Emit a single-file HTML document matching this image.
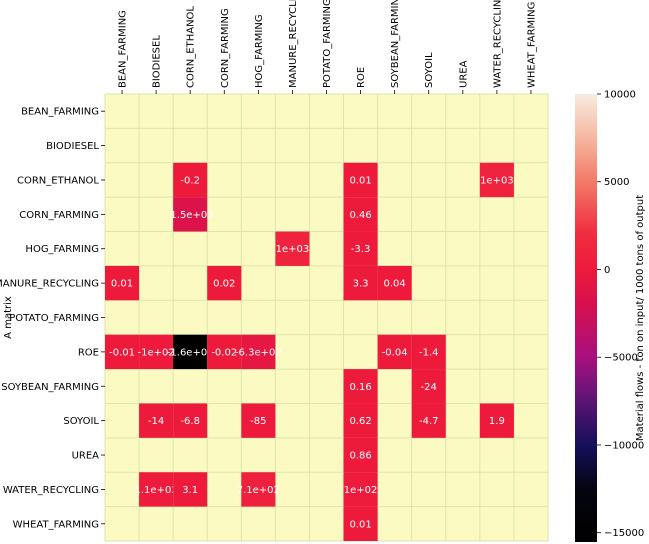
<!DOCTYPE html>
<html><head><meta charset="utf-8"><style>
body{margin:0;background:#fff;}
svg{display:block;font-family:"DejaVu Sans","Liberation Sans",sans-serif;}
</style></head><body>
<svg id="chart" width="649" height="544" viewBox="0 0 649 544"></svg>
<script>
const labels = ["BEAN_FARMING","BIODIESEL","CORN_ETHANOL","CORN_FARMING","HOG_FARMING","MANURE_RECYCLING","POTATO_FARMING","ROE","SOYBEAN_FARMING","SOYOIL","UREA","WATER_RECYCLING","WHEAT_FARMING"];
const cellRows = [2,2,2,3,3,4,4,5,5,5,5,7,7,7,7,7,7,7,8,8,9,9,9,9,9,9,10,11,11,11,11,12];
const cellCols = [2,7,11,2,7,5,7,0,3,7,8,0,1,2,3,4,8,9,7,9,1,2,4,7,9,11,7,1,2,4,7,7];
const cellValues = [-0.2,0.01,1000,-1500,0.46,1000,-3.3,0.01,0.02,3.3,0.04,-0.01,-100,-16000,-0.02,-630,-0.04,-1.4,0.16,-24,-14,-6.8,-85,0.62,-4.7,1.9,0.86,110,3.1,710,100,0.01];
const cellTexts = ["-0.2","0.01","1e+03","-1.5e+03","0.46","1e+03","-3.3","0.01","0.02","3.3","0.04","-0.01","-1e+02","-1.6e+04","-0.02","-6.3e+02","-0.04","-1.4","0.16","-24","-14","-6.8","-85","0.62","-4.7","1.9","0.86","1.1e+02","3.1","7.1e+02","1e+02","0.01"];
const cbTicks = [10000,5000,0,-5000,-10000,-15000];
const cbTickLabels = ["10000","5000","0","\u22125000","\u221210000","\u221215000"];
const vmin=-15530, vmax=10000;

const stops=[[-15530,[0,0,0]],[-12500,[4,4,16]],[-10000,[20,16,90]],[-7000,[106,20,120]],[-5000,[168,15,126]],[-2000,[214,16,78]],[0,[238,26,60]],[2000,[240,44,64]],[5000,[243,122,104]],[7500,[245,184,160]],[10000,[248,235,224]]];
function cmap(v){
  v=Math.max(vmin,Math.min(vmax,v));
  for(let i=1;i<stops.length;i++){
    if(v<=stops[i][0]){const a=stops[i-1],b=stops[i];const t=(v-a[0])/(b[0]-a[0]);
      const c=a[1].map((x,k)=>Math.round(x+(b[1][k]-x)*t));return `rgb(${c[0]},${c[1]},${c[2]})`;}
  }
  return 'rgb(248,235,224)';
}
const NS="http://www.w3.org/2000/svg";
const svg=document.getElementById('chart');
function el(tag,attrs,parent){const e=document.createElementNS(NS,tag);for(const k in attrs)e.setAttribute(k,attrs[k]);(parent||svg).appendChild(e);return e;}
const X0=105,Y0=94,W=443,H=447,n=labels.length,cw=W/n,ch=H/n;
const xPos=i=>X0+cw*i, yPos=i=>Y0+ch*i;
const bg=el('rect',{x:X0,y:Y0,width:W,height:H,fill:'#fafac2'});


for(let i=0;i<=n;i++){
  const l1=el('line',{x1:xPos(i),x2:xPos(i),y1:Y0,y2:Y0+H,stroke:'#dde6a6','stroke-width':1});
  
  
  const l2=el('line',{x1:X0,x2:X0+W,y1:yPos(i),y2:yPos(i),stroke:'#dde6a6','stroke-width':1});
  
  
}
for(let k=0;k<cellValues.length;k++){
  const r=el('rect',{x:xPos(cellCols[k]),y:yPos(cellRows[k]),width:cw,height:ch,fill:cmap(cellValues[k])});
  
  
  const t=el('text',{x:xPos(cellCols[k]+0.5),y:yPos(cellRows[k]+0.5)+3.5,'text-anchor':'middle','font-size':10,fill:'#fff'});
  t.textContent=cellTexts[k];
  
  
}
for(let i=0;i<n;i++){
  const cx=xPos(i+0.5);
  el('line',{x1:cx,x2:cx,y1:Y0-4,y2:Y0,stroke:'#000','stroke-width':0.8});
  const t=el('text',{x:0,y:0,transform:`translate(${cx+3.5},${Y0-6}) rotate(-90)`,'font-size':10,fill:'#000'});
  t.textContent=labels[i];
  
  
  const cy=yPos(i+0.5);
  el('line',{x1:X0-4,x2:X0,y1:cy,y2:cy,stroke:'#000','stroke-width':0.8});
  const r=el('text',{x:X0-6,y:cy+3.5,'text-anchor':'end','font-size':10,fill:'#000'});
  r.textContent=labels[i];
  
  
}
const yl=el('text',{x:0,y:0,transform:`translate(11,${Y0+H/2}) rotate(-90)`,'text-anchor':'middle','font-size':10,fill:'#000'});
yl.textContent='A matrix';


// colorbar
const CX=575,CW=22,CB0=94,CB1=542;
const cy=v=>CB0+(vmax-v)/(vmax-vmin)*(CB1-CB0);
const defs=el('defs',{});
const g=el('linearGradient',{id:'cbg',x1:0,y1:1,x2:0,y2:0},defs);
for(const s of stops){el('stop',{offset:((s[0]-vmin)/(vmax-vmin)).toFixed(4),'stop-color':`rgb(${s[1].join(',')})`},g);}
const cb=el('rect',{x:CX,y:CB0,width:CW,height:CB1-CB0,fill:'url(#cbg)'});


cbTicks.forEach((v,i)=>{
  const y=cy(v);
  el('line',{x1:CX+CW,x2:CX+CW+4,y1:y,y2:y,stroke:'#000','stroke-width':0.8});
  const t=el('text',{x:CX+CW+7,y:y+3.5,'font-size':10,fill:'#000'});
  t.textContent=cbTickLabels[i];
  
  
});
const cl=el('text',{x:0,y:0,transform:`translate(643,${(CB0+CB1)/2}) rotate(-90)`,'text-anchor':'middle','font-size':10,fill:'#000'});
cl.textContent='Material flows - ton on input/ 1000 tons of output';


</script>
</body></html>
